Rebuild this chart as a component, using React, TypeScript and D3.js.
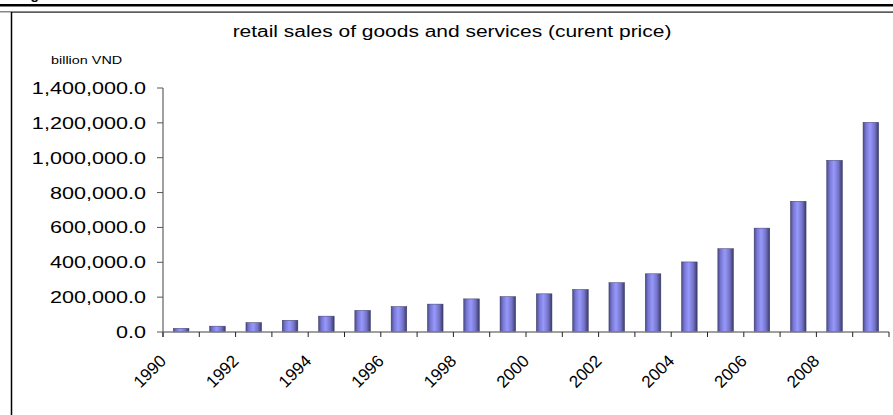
import React from "react";
import * as d3 from "d3";

const years: string[] = [
  "1990", "1991", "1992", "1993", "1994", "1995", "1996", "1997", "1998", "1999",
  "2000", "2001", "2002", "2003", "2004", "2005", "2006", "2007", "2008", "2009",
];
const sales: number[] = [
  21000, 33400, 54000, 67300, 91000, 124000, 146000, 160000, 190000, 203000,
  219000, 244000, 283000, 334000, 402000, 478000, 596000, 750000, 985000, 1203000,
];
const yTicks: number[] = [0, 200000, 400000, 600000, 800000, 1000000, 1200000, 1400000];
const labelYears: string[] = ["1990", "1992", "1994", "1996", "1998", "2000", "2002", "2004", "2006", "2008"];
const title = "retail sales of goods and services (curent price)";
const unit = "billion VND";

export default function App() {
  const W = 893, H = 415;
  const x = d3.scaleBand<string>().domain(years).range([163, 889]).paddingInner(0.57).paddingOuter(0.285);
  const step = x.step();
  const y = d3.scaleLinear().domain([0, 1400000]).range([332, 88]);
  const fmt = d3.format(",.1f");
  const font = "'Liberation Sans', Arial, sans-serif";
  const sx = 1.31;
  const x0 = 163, x1 = 889, y0 = y(0);
  const boundaries = d3.range(years.length + 1).map((i) => x0 + i * step);

  return (
    <svg width={W} height={H} style={{ position: "absolute", left: 0, top: 0, display: "block" }} fontFamily={font}>
      <defs>
        <linearGradient id="barGrad" x1="0" x2="1" y1="0" y2="0">
          <stop offset="0%" stopColor="#4a4a88" />
          <stop offset="18%" stopColor="#7676d2" />
          <stop offset="45%" stopColor="#9898fc" />
          <stop offset="75%" stopColor="#7474c8" />
          <stop offset="100%" stopColor="#3a3a68" />
        </linearGradient>
      </defs>
      <rect x={0} y={0} width={W} height={H} fill="#fff" />
      {/* cut heading above */}
      <text x={18} y={-1} fontSize={14} fontWeight="bold" fill="#000">Figure</text>
      {/* frame lines */}
      <rect x={0} y={4} width={W} height={2.5} fill="#000" />
      <rect x={0} y={11} width={W} height={1.5} fill="#888" />
      <line x1={11} y1={12.5} x2={W} y2={12.5} stroke="#444" strokeWidth={0.8} />
      <line x1={11.5} y1={12} x2={11.5} y2={H} stroke="#000" strokeWidth={1.5} />

      {/* title */}
      <g transform={`translate(452,37) scale(${sx},1)`}>
        <text textAnchor="middle" fontSize={16} fill="#000">{title}</text>
      </g>
      <g transform={`translate(51,64) scale(${sx},1)`}>
        <text textAnchor="start" fontSize={11} fill="#000">{unit}</text>
      </g>

      {/* y axis */}
      <line x1={x0} y1={y(1400000)} x2={x0} y2={y0 + 5} stroke="#808080" strokeWidth={1.5} />
      {yTicks.map((t) => (
        <g key={t}>
          <line x1={x0 - 6} x2={x0} y1={y(t)} y2={y(t)} stroke="#555" strokeWidth={1} />
          <g transform={`translate(146,${y(t)}) scale(${sx},1)`}>
            <text textAnchor="end" dy="0.36em" fontSize={16.5} fill="#000">{fmt(t)}</text>
          </g>
        </g>
      ))}

      {/* bars */}
      {years.map((yr, i) => (
        <rect
          key={yr}
          x={x(yr)}
          y={y(sales[i])}
          width={x.bandwidth()}
          height={y0 - y(sales[i])}
          fill="url(#barGrad)"
          stroke="#3a3a6a"
          strokeWidth={0.5}
        />
      ))}

      {/* x axis */}
      <line x1={x0} x2={x1} y1={y0} y2={y0} stroke="#808080" strokeWidth={1.5} />
      {boundaries.map((bx, i) => (
        <line key={i} x1={bx} x2={bx} y1={y0} y2={y0 + 5} stroke="#222" strokeWidth={1} />
      ))}
      {labelYears.map((yr) => {
        const cx = (x(yr) as number) + x.bandwidth() / 2;
        return (
          <text
            key={yr}
            transform={`translate(${cx - 14},362) rotate(-45)`}
            textAnchor="end"
            fontSize={17}
            fill="#000"
          >
            {yr}
          </text>
        );
      })}
    </svg>
  );
}
